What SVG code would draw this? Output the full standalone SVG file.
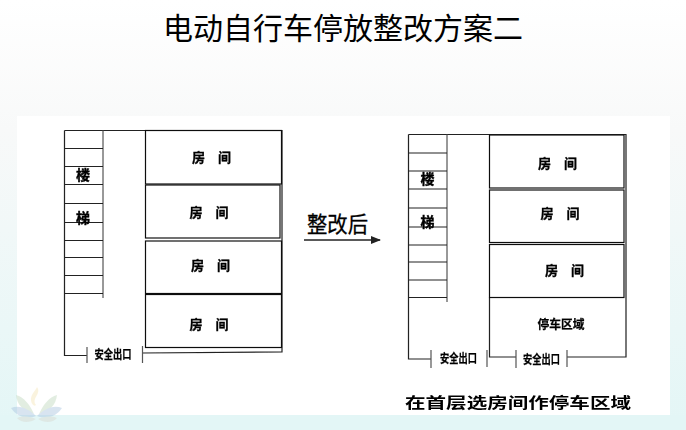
<svg xmlns="http://www.w3.org/2000/svg" width="686" height="430" viewBox="0 0 686 430">
<style>
.w{fill:none;stroke:#222;stroke-width:1.2}
.g{fill:none;stroke:#555;stroke-width:1.2}
.r{fill:#fff;stroke:#111;stroke-width:1.2}
text{font-family:"Noto Sans CJK SC","Liberation Sans",sans-serif;fill:#000}
.l{font-size:13px;font-weight:700;stroke:#000;stroke-width:.3}
.t{font-size:14px;font-weight:700;stroke:#000;stroke-width:.4}
.s{font-size:12px;font-weight:700;stroke:#000;stroke-width:.25}
</style>
<defs>
<linearGradient id="bg" x1="0" y1="0" x2="0" y2="1"><stop offset="0" stop-color="#fff"/><stop offset="0.3" stop-color="#f8f9f9"/><stop offset="1" stop-color="#e3f6f6"/></linearGradient>
<marker id="a" markerWidth="10" markerHeight="8" refX="9" refY="4" orient="auto" markerUnits="userSpaceOnUse"><path d="M0 0L10 4L0 8z" fill="#222"/></marker>
<filter id="b" x="-2%" y="-2%" width="104%" height="104%"><feGaussianBlur stdDeviation="0.3"/></filter>
</defs>
<rect width="686" height="430" fill="url(#bg)"/>
<rect x="0" y="415" width="686" height="15" fill="#e3f6f6"/>
<rect x="17" y="116" width="653" height="299" fill="#fff"/>
<g id="logo" opacity="0.45">
<path d="M37 387C42 394 31 398 36 405C33 408 29 400 32 395C33 392 36 390 37 387Z" fill="#f5e6b8"/>
<path d="M16 395C24 397 30 405 34 414C24 412 17 405 16 395Z" fill="#bfd8bd"/>
<path d="M57 395C49 397 43 405 39 414C49 412 56 405 57 395Z" fill="#bfd8bd"/>
<path d="M11 408C20 404 30 410 36 416C26 420 16 416 11 408Z" fill="#a9c4e0"/>
<path d="M62 408C53 404 43 410 37 416C47 420 57 416 62 408Z" fill="#a9c4e0"/>
<path d="M17 418C24 415 31 417 36 419C30 423 21 423 17 418Z" fill="#d8d8d0"/>
<path d="M57 418C50 415 43 417 38 419C44 423 53 423 57 418Z" fill="#d8d8d0"/>
</g>
<text id="title" x="163" y="39" font-size="30" textLength="360">电动自行车停放整改方案二</text>
<g filter="url(#b)">
<g id="left-plan">
<path class="w" d="M64.500 130.500H282V352L142.500 353"/>
<path class="w" d="M64.500 130.500V355.500H87"/>
<path class="g" d="M103 130.500V298"/>
<path class="w" d="M64.500 148.500H103M64.500 166.500H103M64.500 184.500H103M64.500 203.500H103M64.500 222.500H103M64.500 240.500H103M64.500 257.500H103M64.500 275.500H103M64.500 293.500H103"/>
<path class="g" d="M87 347V363M142.500 346V363"/>
<text class="t" x="76" y="180">楼</text>
<text class="t" x="76" y="223">梯</text>
<text class="s" x="94.500" y="358.500" textLength="37" lengthAdjust="spacingAndGlyphs">安全出口</text>
</g>
<g id="left-room-1"><rect class="r" x="145.500" y="130.500" width="136" height="53.500"/><text class="l" x="192" y="161.500">房　间</text></g>
<g id="left-room-2"><rect class="r" x="145.500" y="185" width="134.500" height="53"/><text class="l" x="189.500" y="217">房　间</text></g>
<g id="left-room-3"><rect class="r" x="145.500" y="241" width="136" height="52.500"/><text class="l" x="191" y="270">房　间</text></g>
<g id="left-room-4"><rect class="r" x="145.500" y="294.500" width="136" height="53"/><text class="l" x="189.500" y="329">房　间</text></g>
<g id="right-plan">
<path class="w" d="M408.500 134.500H626V357H567"/>
<path class="w" d="M408.500 134.500V359H431"/>
<path class="w" d="M489.500 297.500V357H516"/>
<path class="g" d="M447 134.500V302"/>
<path class="w" d="M408.500 153H447M408.500 171H447M408.500 189H447M408.500 208H447M408.500 227H447M408.500 245H447M408.500 262H447M408.500 280H447M408.500 297.500H447"/>
<path class="g" d="M431 350V368M487 350V367M516 350V368M567 350V367"/>
<text class="t" x="420.500" y="184">楼</text>
<text class="t" x="420.500" y="227">梯</text>
<text class="s" x="440" y="363" textLength="37" lengthAdjust="spacingAndGlyphs">安全出口</text>
<text class="s" x="523" y="364" textLength="37" lengthAdjust="spacingAndGlyphs">安全出口</text>
</g>
<g id="right-room-1"><rect class="r" x="489.500" y="135" width="134.500" height="53"/><text class="l" x="538" y="168">房　间</text></g>
<g id="right-room-2"><rect class="r" x="489.500" y="190" width="134.500" height="52.500"/><text class="l" x="540.500" y="218">房　间</text></g>
<g id="right-room-3"><rect class="r" x="489.500" y="244.500" width="134.500" height="53"/><text class="l" x="545" y="275">房　间</text></g>
<g id="parking"><text class="s" x="537.500" y="329" textLength="47" lengthAdjust="spacingAndGlyphs">停车区域</text></g>
<g id="connectors"><path d="M304 240H380" stroke="#222" stroke-width="1.500" fill="none" marker-end="url(#a)"/></g>
<text x="405" y="408" font-size="15" font-weight="700" textLength="226" lengthAdjust="spacingAndGlyphs">在首层选房间作停车区域</text>
</g>
<text x="307" y="232" font-size="22" textLength="61" lengthAdjust="spacingAndGlyphs" stroke="#000" stroke-width=".3">整改后</text>
</svg>
